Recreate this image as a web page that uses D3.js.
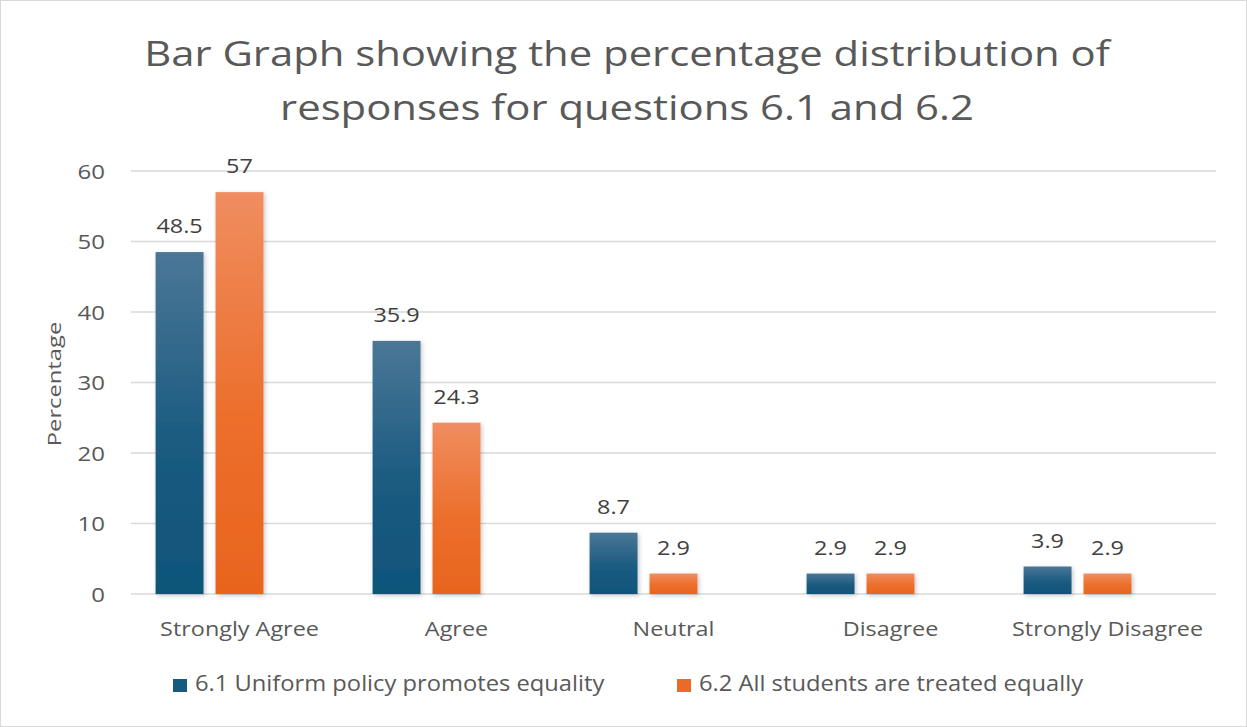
<!DOCTYPE html>
<html><head><meta charset="utf-8">
<script src="https://cdn.jsdelivr.net/npm/d3@7"></script>
<style>body{margin:0;background:#fff;} svg{display:block;font-family:"Open Sans",sans-serif;}</style>
</head><body>
<svg id="c" width="1247" height="727"></svg>
<script>
const categories = ["Strongly Agree","Agree","Neutral","Disagree","Strongly Disagree"];
const seriesNames = ["6.1 Uniform policy promotes equality","6.2 All students are treated equally"];
const series61 = [48.5,35.9,8.7,2.9,3.9];
const series62 = [57,24.3,2.9,2.9,2.9];
const yTicks = [0,10,20,30,40,50,60];
const titleLines = ["Bar Graph showing the percentage distribution of","responses for questions 6.1 and 6.2"];
const yTitle = "Percentage";

const W=1247,H=727;
const svg=d3.select("#c");
const m={l:131,r:1216,t:171,b:594};
svg.append("rect").attr("x",0.5).attr("y",0.5).attr("width",W-1).attr("height",H-1).attr("fill","#fff").attr("stroke","#d9d9d9");

// horizontal stretch of text around its anchor point (source image is wide-set)
function stretch(sel,k){
  sel.each(function(){
    const t=d3.select(this);
    const x=+t.attr("x")||0, y=+t.attr("y")||0;
    t.attr("transform",`translate(${x},${y}) scale(${k},1) translate(${-x},${-y})`);
  });
}

const defs=svg.append("defs");
const grads=[["g0",["#4b7796","#1b5b81","#0f5479"]],["g1",["#f08d60","#ec6f2c","#e8641e"]]];
grads.forEach(([id,c])=>{const g=defs.append("linearGradient").attr("id",id).attr("x1",0).attr("y1",0).attr("x2",0).attr("y2",1);
g.append("stop").attr("offset","0%").attr("stop-color",c[0]);
g.append("stop").attr("offset","55%").attr("stop-color",c[1]);
g.append("stop").attr("offset","100%").attr("stop-color",c[2]);});
const f=defs.append("filter").attr("id","sh").attr("x","-20%").attr("y","-20%").attr("width","140%").attr("height","140%");
f.append("feDropShadow").attr("dx",1.5).attr("dy",1.5).attr("stdDeviation",2).attr("flood-color","#000").attr("flood-opacity",0.22);

const y=d3.scaleLinear().domain([0,60]).range([m.b,m.t]);
const x0=d3.scaleBand().domain(categories).range([m.l,m.r]).paddingInner(0).paddingOuter(0);
// three slots per group, like the source chart (third slot empty)
const x1=d3.scaleBand().domain([0,1,2]).range([0,x0.bandwidth()]).paddingInner(0.2).paddingOuter(0.41);

// title
svg.append("g").selectAll("text").data(titleLines).join("text")
 .attr("x",627).attr("y",(d,i)=>66+i*54).attr("text-anchor","middle")
 .attr("font-size",34).attr("fill","#595959").text(d=>d)
 .call(stretch,1.23);

// gridlines
svg.append("g").selectAll("line").data(yTicks).join("line")
 .attr("x1",m.l).attr("x2",m.r).attr("y1",d=>y(d)).attr("y2",d=>y(d))
 .attr("stroke","#d9d9d9").attr("stroke-width",1.5);

// y axis labels
const ya=svg.append("g").attr("transform",`translate(${m.l},0)`).call(d3.axisLeft(y).tickValues(yTicks).tickSize(0).tickPadding(26));
ya.select(".domain").remove();
ya.selectAll(".tick text").attr("font-size",20).attr("fill","#595959").attr("font-family","Open Sans").attr("text-anchor","end")
  .attr("x",-26).attr("y",1).call(stretch,1.2);

svg.append("text").attr("transform",`translate(61,${384}) rotate(-90) scale(1.25,1)`).attr("text-anchor","middle")
 .attr("font-size",19).attr("fill","#595959").text(yTitle);

const data=[series61,series62];
const groups=svg.append("g");
data.forEach((vals,si)=>{
  groups.append("g").selectAll("rect").data(vals).join("rect")
   .attr("x",(d,i)=>x0(categories[i])+x1(si)).attr("width",x1.bandwidth())
   .attr("y",d=>y(d)).attr("height",d=>y(0)-y(d))
   .attr("fill",`url(#g${si})`).attr("filter","url(#sh)");
  groups.append("g").selectAll("text").data(vals).join("text")
   .attr("x",(d,i)=>x0(categories[i])+x1(si)+x1.bandwidth()/2).attr("y",d=>y(d)-19)
   .attr("text-anchor","middle").attr("font-size",20).attr("fill","#404040").text(d=>d)
   .call(stretch,1.17);
});

// x axis labels
const xa=svg.append("g").attr("transform",`translate(0,${m.b})`).call(d3.axisBottom(x0).tickSize(0).tickPadding(0));
xa.select(".domain").remove();
xa.selectAll(".tick text").attr("font-size",20).attr("fill","#595959").attr("font-family","Open Sans")
  .attr("dy",null).attr("y",42).call(stretch,1.17);

// legend
const leg=[[173,0],[677,1]];
leg.forEach(([lx,si])=>{
  svg.append("rect").attr("x",lx).attr("y",679).attr("width",14).attr("height",13).attr("fill",si?"#ec6a26":"#175a80");
  svg.append("text").attr("x",lx+22).attr("y",691).attr("font-size",21).attr("fill","#595959").text(seriesNames[si])
   .call(stretch,1.13);
});
</script>
</body></html>
